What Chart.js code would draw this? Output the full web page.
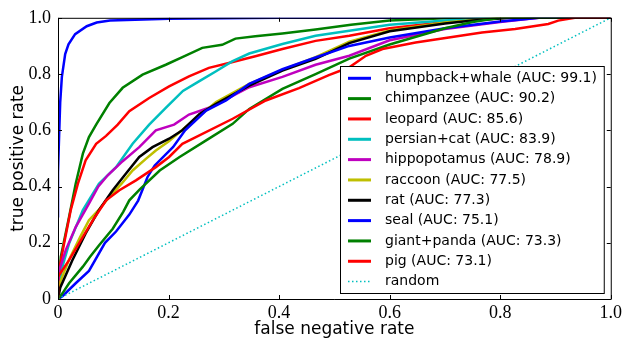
<!DOCTYPE html>
<html>
<head>
<meta charset="utf-8">
<script src="https://cdn.jsdelivr.net/npm/chart.js@4.4.0/dist/chart.umd.min.js"></script>
<style>
    body { margin: 0; background: white; }
    #roc-canvas { display: block; }
</style>
</head>
<body>
<canvas id="roc-canvas" width="625" height="341"></canvas>
<script>
/* ############ */
/* ### Data ### */
/* ############ */

const classNames = ['humpback+whale', 'chimpanzee', 'leopard', 'persian+cat', 'hippopotamus',
    'raccoon', 'rat', 'seal', 'giant+panda', 'pig'];
const aucValues = [99.1, 90.2, 85.6, 83.9, 78.9, 77.5, 77.3, 75.1, 73.3, 73.1];

const xTickLabels = ['0', '0.2', '0.4', '0.6', '0.8', '1.0'];
const yTickLabels = ['0', '0.2', '0.4', '0.6', '0.8', '1.0'];

const fprHumpback = [0, 0, 0.002, 0.004, 0.007, 0.013, 0.019, 0.031, 0.052, 0.07, 0.094, 0.2, 0.4, 1];
const tprHumpback = [0.29, 0.45, 0.58, 0.7, 0.79, 0.871, 0.906, 0.942, 0.97, 0.983, 0.99, 0.997, 1, 1];

const fprChimp = [0, 0.005, 0.02, 0.032, 0.045, 0.056, 0.069, 0.093, 0.117, 0.153, 0.195, 0.225, 0.261, 0.297, 0.321, 0.357, 0.406, 0.466, 0.53, 0.6, 0.7, 0.76, 1];
const tprChimp = [0, 0.15, 0.292, 0.41, 0.517, 0.576, 0.62, 0.697, 0.751, 0.798, 0.833, 0.86, 0.893, 0.904, 0.926, 0.934, 0.944, 0.958, 0.975, 0.99, 0.998, 1, 1];

const fprLeopard = [0, 0.002, 0.011, 0.023, 0.036, 0.05, 0.069, 0.087, 0.108, 0.129, 0.165, 0.201, 0.237, 0.273, 0.309, 0.357, 0.406, 0.466, 0.527, 0.6, 0.7, 0.8, 1];
const tprLeopard = [0, 0.103, 0.197, 0.316, 0.41, 0.493, 0.552, 0.58, 0.62, 0.668, 0.715, 0.756, 0.792, 0.822, 0.839, 0.863, 0.889, 0.918, 0.936, 0.963, 0.985, 1, 1];

const fprPersian = [0, 0.003, 0.008, 0.02, 0.045, 0.074, 0.105, 0.135, 0.165, 0.195, 0.226, 0.255, 0.286, 0.315, 0.346, 0.406, 0.466, 0.527, 0.6, 0.7, 0.78, 1];
const tprPersian = [0, 0.06, 0.115, 0.197, 0.316, 0.41, 0.469, 0.552, 0.62, 0.68, 0.74, 0.774, 0.81, 0.845, 0.873, 0.907, 0.936, 0.954, 0.975, 0.99, 1, 1];

const fprHippo = [0, 0.002, 0.014, 0.032, 0.056, 0.073, 0.09, 0.117, 0.147, 0.177, 0.21, 0.237, 0.273, 0.297, 0.346, 0.406, 0.466, 0.527, 0.6, 0.7, 0.8, 0.87, 1];
const tprHippo = [0, 0.1, 0.174, 0.256, 0.339, 0.4, 0.44, 0.49, 0.54, 0.6, 0.62, 0.656, 0.68, 0.703, 0.753, 0.79, 0.833, 0.865, 0.92, 0.96, 0.985, 1, 1];

const fprRaccoon = [0, 0.004, 0.02, 0.04, 0.056, 0.075, 0.093, 0.115, 0.135, 0.16, 0.177, 0.2, 0.23, 0.286, 0.346, 0.406, 0.466, 0.527, 0.6, 0.7, 0.8, 1];
const tprRaccoon = [0, 0.06, 0.14, 0.22, 0.28, 0.32, 0.363, 0.41, 0.457, 0.5, 0.528, 0.56, 0.61, 0.7, 0.765, 0.815, 0.86, 0.915, 0.955, 0.983, 1, 1];

const fprRat = [0, 0.004, 0.026, 0.05, 0.074, 0.099, 0.123, 0.147, 0.171, 0.201, 0.225, 0.256, 0.286, 0.346, 0.406, 0.466, 0.527, 0.6, 0.7, 0.75, 0.82, 1];
const tprRat = [0, 0.04, 0.138, 0.233, 0.316, 0.387, 0.446, 0.505, 0.54, 0.57, 0.6, 0.658, 0.694, 0.759, 0.812, 0.854, 0.91, 0.952, 0.98, 0.99, 1, 1];

const fprSeal = [0, 0.008, 0.032, 0.056, 0.085, 0.105, 0.129, 0.145, 0.162, 0.175, 0.208, 0.23, 0.268, 0.304, 0.346, 0.406, 0.466, 0.527, 0.6, 0.7, 0.8, 0.87, 1];
const tprSeal = [0, 0.01, 0.056, 0.1, 0.2, 0.24, 0.3, 0.35, 0.434, 0.475, 0.54, 0.6, 0.67, 0.706, 0.765, 0.817, 0.859, 0.9, 0.93, 0.963, 0.987, 1, 1];

const fprPanda = [0, 0.008, 0.02, 0.045, 0.058, 0.074, 0.099, 0.118, 0.129, 0.148, 0.184, 0.22, 0.268, 0.316, 0.346, 0.406, 0.466, 0.527, 0.6, 0.7, 0.75, 0.8, 1];
const tprPanda = [0, 0.02, 0.056, 0.115, 0.15, 0.19, 0.25, 0.31, 0.351, 0.39, 0.457, 0.505, 0.564, 0.623, 0.676, 0.747, 0.8, 0.855, 0.905, 0.963, 0.985, 1, 1];

const fprPig = [0, 0, 0.02, 0.045, 0.063, 0.087, 0.111, 0.141, 0.177, 0.201, 0.225, 0.244, 0.316, 0.376, 0.436, 0.49, 0.527, 0.557, 0.587, 0.647, 0.707, 0.767, 0.827, 0.887, 0.905, 0.935, 1];
const tprPig = [0, 0.079, 0.138, 0.221, 0.28, 0.351, 0.387, 0.422, 0.469, 0.505, 0.552, 0.57, 0.641, 0.706, 0.75, 0.796, 0.824, 0.865, 0.889, 0.912, 0.93, 0.948, 0.96, 0.978, 0.99, 1, 1];

const fprRandom = [0, 1];
const tprRandom = [0, 1];

const fprSeries = [fprHumpback, fprChimp, fprLeopard, fprPersian, fprHippo, fprRaccoon, fprRat, fprSeal, fprPanda, fprPig];
const tprSeries = [tprHumpback, tprChimp, tprLeopard, tprPersian, tprHippo, tprRaccoon, tprRat, tprSeal, tprPanda, tprPig];

/* ############## */
/* ### Styles ### */
/* ############## */

// matplotlib classic colour cycle: b, g, r, c, m, y, k
const seriesColors = ['#0000ff', '#008000', '#ff0000', '#00bfbf', '#bf00bf',
    '#bfbf00', '#000000', '#0000ff', '#008000', '#ff0000'];

const SANS = "'DejaVu Sans', sans-serif";
const SERIF = "'Liberation Serif', serif";

/* ############### */
/* ### Plugins ### */
/* ############### */

// Full box round the plot with inward tick marks on all four sides
const frameTicks = {
    id: 'frameTicks',
    afterDatasetsDraw(chart) {
        const { ctx, chartArea: a, scales: { x, y } } = chart;
        const len = 4;

        ctx.save();
        ctx.strokeStyle = '#000';
        ctx.lineWidth = 1;
        ctx.beginPath();
        ctx.rect(a.left + 0.5, a.top + 0.5, a.right - a.left, a.bottom - a.top);

        x.ticks.forEach(t => {
            const px = Math.round(x.getPixelForValue(t.value)) + 0.5;
            ctx.moveTo(px, a.bottom);
            ctx.lineTo(px, a.bottom - len);
            ctx.moveTo(px, a.top);
            ctx.lineTo(px, a.top + len);
        });
        y.ticks.forEach(t => {
            const py = Math.round(y.getPixelForValue(t.value)) + 0.5;
            ctx.moveTo(a.left, py);
            ctx.lineTo(a.left + len, py);
            ctx.moveTo(a.right, py);
            ctx.lineTo(a.right - len, py);
        });
        ctx.stroke();
        ctx.restore();
    }
};

// Legend in a framed box at the lower right of the plot
const boxedLegend = {
    id: 'boxedLegend',
    afterDraw(chart, args, opts) {
        const { ctx, chartArea: a } = chart;
        const sets = chart.data.datasets;
        const height = opts.padTop + (sets.length - 1) * opts.rowHeight + opts.padBottom;
        const right = a.right - opts.gapRight;
        const bottom = a.bottom - opts.gapBottom;
        const left = Math.round(right - opts.width);
        const top = Math.round(bottom - height);

        ctx.save();
        ctx.fillStyle = '#fff';
        ctx.fillRect(left, top, right - left, bottom - top);
        ctx.strokeStyle = '#000';
        ctx.lineWidth = 1;
        ctx.strokeRect(left + 0.5, top + 0.5, right - left, bottom - top);

        ctx.font = opts.font;
        ctx.textBaseline = 'middle';
        ctx.textAlign = 'left';

        sets.forEach((ds, i) => {
            const cy = top + opts.padTop + i * opts.rowHeight;
            ctx.strokeStyle = ds.borderColor;
            ctx.lineWidth = ds.borderDash ? ds.borderWidth : 3;
            ctx.setLineDash(ds.borderDash || []);
            ctx.beginPath();
            ctx.moveTo(left + 8, cy);
            ctx.lineTo(left + 31, cy);
            ctx.stroke();

            ctx.fillStyle = '#000';
            ctx.fillText(ds.label, left + 45, cy);
        });
        ctx.setLineDash([]);
        ctx.restore();
    }
};

/* ############# */
/* ### Chart ### */
/* ############# */

function toPoints(xs, ys) {
    return xs.map((v, i) => ({ x: v, y: ys[i] }));
}

const datasets = classNames.map((name, i) => ({
    label: name + ' (AUC: ' + aucValues[i].toFixed(1) + ')',
    data: toPoints(fprSeries[i], tprSeries[i]),
    borderColor: seriesColors[i],
    borderWidth: 2.5,
    pointRadius: 0,
    tension: 0,
    clip: 0,
    order: classNames.length + 1 - i
}));

datasets.push({
    label: 'random',
    data: toPoints(fprRandom, tprRandom),
    borderColor: '#00bfbf',
    borderWidth: 1.5,
    borderDash: [1.5, 2.5],
    pointRadius: 0,
    clip: 0,
    order: 0
});

new Chart(document.getElementById('roc-canvas').getContext('2d'), {
    type: 'line',
    data: { datasets: datasets },
    options: {
        responsive: false,
        animation: false,
        layout: { padding: { left: 0, right: 12, top: 17, bottom: 0 } },
        plugins: {
            legend: { display: false },
            tooltip: { enabled: false },
            boxedLegend: {
                width: 263.5,
                gapRight: 7,
                gapBottom: 6,
                rowHeight: 20.33,
                padTop: 12.3,
                padBottom: 11,
                font: '14px ' + SANS
            }
        },
        scales: {
            x: {
                type: 'linear',
                min: 0,
                max: 1,
                grid: { display: false, drawTicks: false },
                border: { display: false },
                ticks: {
                    stepSize: 0.2,
                    padding: 3,
                    color: '#000',
                    font: { family: SERIF, size: 18 },
                    maxRotation: 0,
                    callback: (v, i) => xTickLabels[i]
                },
                title: {
                    display: true,
                    text: 'false negative rate',
                    color: '#000',
                    font: { family: SANS, size: 17 },
                    padding: { top: 0, bottom: 1 }
                },
                afterFit: scale => { scale.height = 42; }
            },
            y: {
                type: 'linear',
                min: 0,
                max: 1,
                grid: { display: false, drawTicks: false },
                border: { display: false },
                ticks: {
                    stepSize: 0.2,
                    padding: 7,
                    color: '#000',
                    font: { family: SERIF, size: 18 },
                    callback: (v, i) => yTickLabels[i]
                },
                title: {
                    display: true,
                    text: 'true positive rate',
                    color: '#000',
                    font: { family: SANS, size: 17 },
                    padding: { top: 8, bottom: 0 }
                },
                afterFit: scale => { scale.width = 58; }
            }
        }
    },
    plugins: [frameTicks, boxedLegend]
});
</script>
</body>
</html>
